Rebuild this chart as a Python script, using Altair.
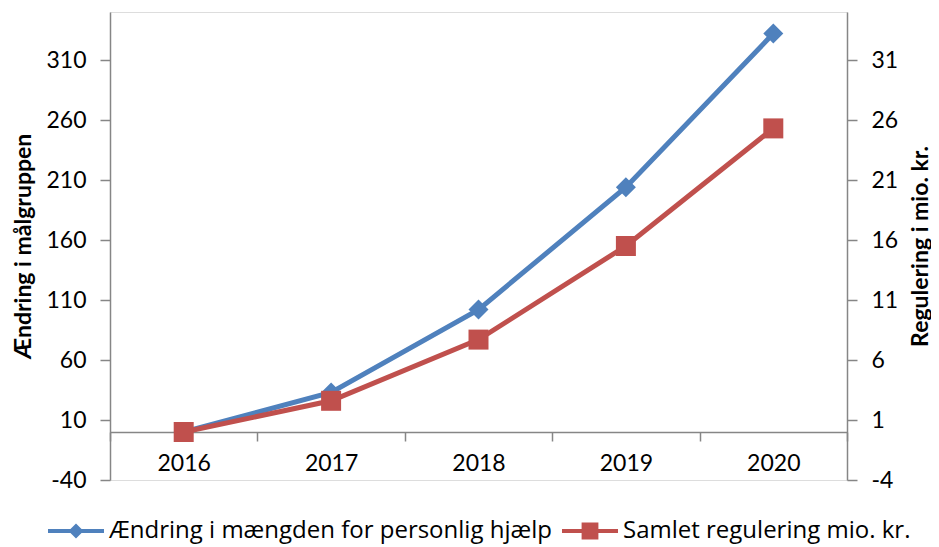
import altair as alt
import pandas as pd

years = ["2016", "2017", "2018", "2019", "2020"]
series_names = ["Ændring i mængden for personlig hjælp", "Samlet regulering mio. kr."]
change_group = [0, 33, 102, 204, 332]
regulation = [0.0, 2.6, 7.7, 15.5, 25.3]
left_ticks = [-40, 10, 60, 110, 160, 210, 260, 310]
right_ticks = [-4, 1, 6, 11, 16, 21, 26, 31]
left_domain = [-40, 350]
right_domain = [-4, 35]

BLUE = "#4F81BD"
RED = "#C0504D"
GREY = "#868686"
FONT = "Lato"
LEG_FONT = "Open Sans"
FS = 23

W, H = 737, 468

rows = []
for y, v in zip(years, change_group):
    rows.append({"year": y, "series": series_names[0], "value": v})
for y, v in zip(years, regulation):
    rows.append({"year": y, "series": series_names[1], "value": v})
df = pd.DataFrame(rows)

zero_offset = -(0 - left_domain[0]) / (left_domain[1] - left_domain[0]) * H

x_enc = alt.X(
    "year:N",
    sort=years,
    scale=alt.Scale(paddingInner=0, paddingOuter=0),
    axis=alt.Axis(
        title=None,
        offset=zero_offset,
        tickBand="extent",
        domainColor=GREY,
        domainWidth=1.5,
        tickColor=GREY,
        tickWidth=1.5,
        tickSize=9,
        labelAngle=0,
        labelPadding=11,
        labelFontSize=FS,
        labelFont=FONT,
        labelColor="black",
        grid=False,
    ),
)

# legend glyphs: line bar + marker, in unit symbol coordinates
LEG_BLUE = "M-1,-0.07H1V0.07H-1Z M0,-0.27L0.27,0L0,0.27L-0.27,0Z"
LEG_RED = "M-1,-0.07H1V0.07H-1Z M-0.3,-0.3H0.3V0.3H-0.3Z"

def make_legend():
    return alt.Legend(
        orient="none",
        legendX=-62,
        legendY=491,
        direction="horizontal",
        title=None,
        symbolSize=3136,
        symbolOpacity=1,
        symbolStrokeWidth=0,
        labelFontSize=24,
        labelFont=LEG_FONT,
        labelColor="black",
        labelOffset=5,
        columnPadding=10,
        labelLimit=600,
    )

color_enc = alt.Color(
    "series:N",
    scale=alt.Scale(domain=series_names, range=[BLUE, RED]),
    legend=make_legend(),
)
shape_enc = alt.Shape(
    "series:N",
    scale=alt.Scale(domain=series_names, range=[LEG_BLUE, LEG_RED]),
    legend=make_legend(),
)

def y_axis(orient, ticks, title, tx):
    return alt.Axis(
        orient=orient,
        values=ticks,
        title=title,
        titleFont=FONT,
        titleFontSize=FS,
        titleFontWeight="bold",
        titleColor="black",
        titleAngle=270,
        titleX=tx,
        titleY=H / 2,
        titleAlign="center",
        titleBaseline="middle",
        labelFont=FONT,
        labelFontSize=FS,
        labelColor="black",
        labelPadding=14,
        labelExpr="'' + datum.value",
        domainColor=GREY,
        domainWidth=1.5,
        tickColor=GREY,
        tickWidth=1.5,
        tickSize=10,
        grid=False,
    )

base = alt.Chart(df)

left_y = alt.Y(
    "value:Q",
    scale=alt.Scale(domain=left_domain, nice=False, zero=False),
    axis=y_axis("left", left_ticks, "Ændring i målgruppen", -87),
)
right_y = alt.Y(
    "value:Q",
    scale=alt.Scale(domain=right_domain, nice=False, zero=False),
    axis=y_axis("right", right_ticks, "Regulering i mio. kr.", 73),
)

blue_data = base.transform_filter(alt.datum.series == series_names[0])
red_data = base.transform_filter(alt.datum.series == series_names[1])

left_layer = alt.layer(
    blue_data.mark_line(strokeWidth=5).encode(x=x_enc, y=left_y, color=color_enc),
    blue_data.mark_point(shape="diamond", filled=True, size=400, opacity=1).encode(
        x=x_enc, y=left_y, color=color_enc
    ),
    blue_data.mark_point(filled=True, opacity=0).encode(
        x=x_enc, y=left_y, color=color_enc, shape=shape_enc
    ),
)
right_layer = alt.layer(
    red_data.mark_line(strokeWidth=5).encode(x=x_enc, y=right_y, color=color_enc),
    red_data.mark_point(shape="square", filled=True, size=400, opacity=1).encode(
        x=x_enc, y=right_y, color=color_enc
    ),
    red_data.mark_point(filled=True, opacity=0).encode(
        x=x_enc, y=right_y, color=color_enc, shape=shape_enc
    ),
)

chart = (
    alt.layer(left_layer, right_layer)
    .resolve_scale(y="independent")
    .properties(
        width=W,
        height=H,
        autosize=alt.AutoSizeParams(type="none"),
        padding={"left": 102, "top": 4, "right": 84, "bottom": 67},
    )
    .configure_view(stroke=None)
    .configure(background="white")
)

chart.save("out.html", embed_options={"renderer": "svg", "actions": False})
